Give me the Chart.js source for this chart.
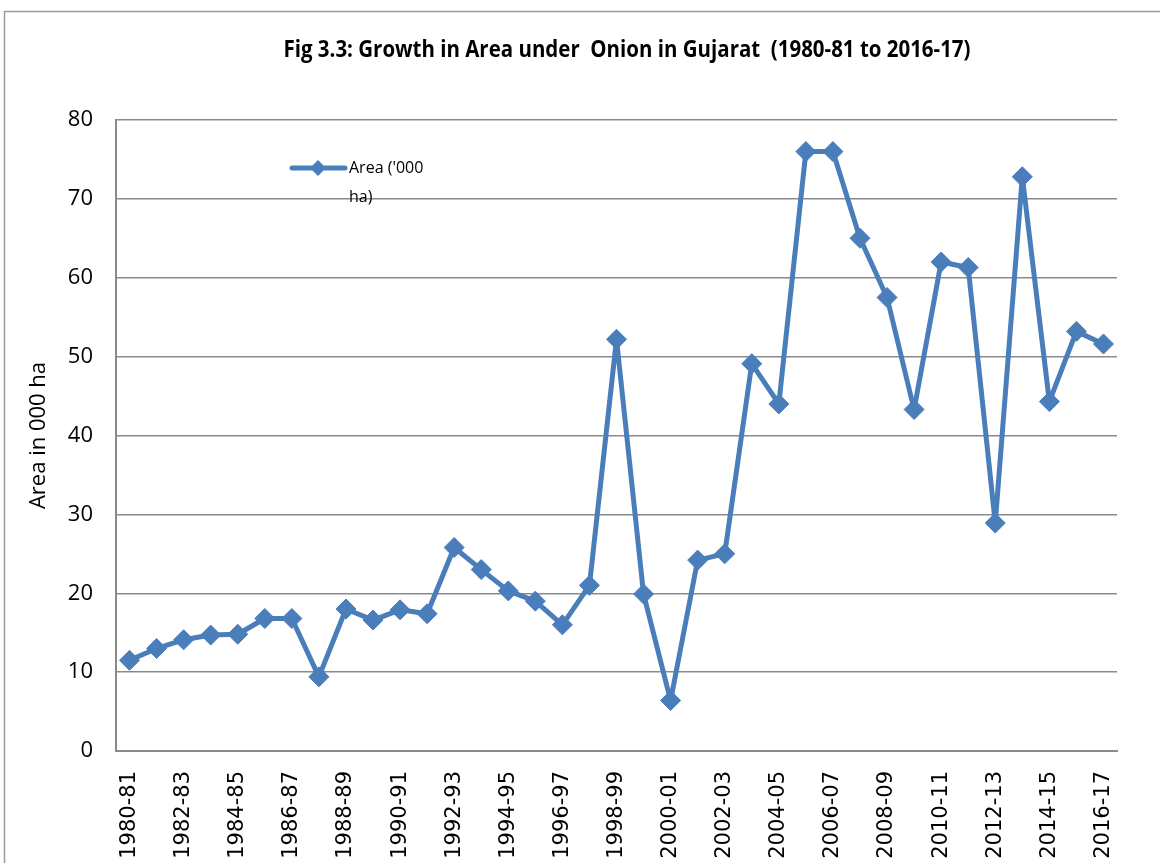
<!DOCTYPE html>
<html>
<head>
<meta charset="utf-8">
<script src="https://cdn.jsdelivr.net/npm/chart.js@4"></script>
<style>
  html, body { margin: 0; padding: 0; background: #fff; }
  #wrap { width: 1160px; height: 863px; position: relative; }
</style>
</head>
<body>
<div id="wrap"><canvas id="areaChart" width="1160" height="863"></canvas></div>
<script>
// Années agricoles
const annees = [
  "1980-81", "1981-82", "1982-83", "1983-84", "1984-85", "1985-86", "1986-87", "1987-88",
  "1988-89", "1989-90", "1990-91", "1991-92", "1992-93", "1993-94", "1994-95", "1995-96",
  "1996-97", "1997-98", "1998-99", "1999-00", "2000-01", "2001-02", "2002-03", "2003-04",
  "2004-05", "2005-06", "2006-07", "2007-08", "2008-09", "2009-10", "2010-11", "2011-12",
  "2012-13", "2013-14", "2014-15", "2015-16", "2016-17"
];

// Superficie ('000 ha)
const superficie = [
  11.5, 13.0, 14.1, 14.7, 14.8, 16.8, 16.8, 9.4,
  18.0, 16.6, 17.9, 17.4, 25.8, 23.0, 20.3, 19.0,
  16.0, 21.0, 52.2, 19.9, 6.4, 24.2, 25.0, 49.1,
  44.0, 76.0, 76.0, 65.0, 57.5, 43.3, 62.0, 61.3,
  28.9, 72.8, 44.3, 53.2, 51.6
];

const titre = "Fig 3.3: Growth in Area under  Onion in Gujarat  (1980-81 to 2016-17)";
const titreAxeY = "Area in 000 ha";
const legende = ["Area ('000", "ha)"];

const bleu = "#4A7EBB";
const gris = "#8a8a8a";

// cadre, titre et légende dessinés à la main
const decor = {
  id: "decor",
  beforeDraw(chart) {
    const ctx = chart.ctx;
    ctx.save();
    ctx.fillStyle = "#fff";
    ctx.fillRect(0, 0, chart.width, chart.height);
    ctx.strokeStyle = "#9a9a9a";
    ctx.lineWidth = 1.5;
    ctx.strokeRect(4.5, 11.5, 1300, 1000);
    ctx.restore();
  },
  afterDraw(chart) {
    const ctx = chart.ctx;
    ctx.save();
    // titre, compressé à la largeur de l'original
    ctx.font = "bold 23px 'Liberation Sans Narrow', 'Open Sans', sans-serif";
    ctx.fillStyle = "#000";
    ctx.textBaseline = "middle";
    ctx.textAlign = "center";
    const w = ctx.measureText(titre).width;
    const sx = Math.min(1, 687 / w);
    ctx.translate(627, 50);
    ctx.scale(sx, 1);
    ctx.fillText(titre, 0, 0);
    ctx.restore();

    // légende
    ctx.save();
    ctx.strokeStyle = bleu;
    ctx.lineWidth = 5;
    ctx.lineCap = "round";
    ctx.beginPath();
    ctx.moveTo(292, 168);
    ctx.lineTo(345, 168);
    ctx.stroke();
    ctx.fillStyle = bleu;
    ctx.beginPath();
    ctx.moveTo(318, 160);
    ctx.lineTo(326, 168);
    ctx.lineTo(318, 176);
    ctx.lineTo(310, 168);
    ctx.closePath();
    ctx.fill();
    ctx.fillStyle = "#000";
    ctx.font = "16px 'Open Sans', sans-serif";
    ctx.textBaseline = "middle";
    ctx.textAlign = "left";
    ctx.fillText(legende[0], 349, 168);
    ctx.fillText(legende[1], 349, 197);
    ctx.restore();
  }
};

new Chart(document.getElementById("areaChart"), {
  type: "line",
  data: {
    labels: annees,
    datasets: [{
      label: "Area ('000 ha)",
      data: superficie,
      borderColor: bleu,
      backgroundColor: bleu,
      borderWidth: 5,
      borderJoinStyle: "round",
      pointStyle: "rectRot",
      pointRadius: 10,
      pointBorderWidth: 1,
      tension: 0,
      fill: false
    }]
  },
  options: {
    responsive: false,
    animation: false,
    layout: { padding: { top: 120, right: 43, left: 0, bottom: 0 } },
    plugins: {
      legend: { display: false },
      title: { display: false },
      tooltip: { enabled: false }
    },
    scales: {
      x: {
        offset: true,
        grid: { display: false },
        border: { display: true, color: gris, width: 2 },
        afterFit(scale) { scale.height = 112; },
        ticks: {
          autoSkip: false,
          minRotation: 90,
          maxRotation: 90,
          padding: 12,
          color: "#000",
          font: { family: "'DejaVu Sans', sans-serif", size: 21 },
          callback(val, idx) { return idx % 2 === 0 ? this.getLabelForValue(val) : ""; }
        }
      },
      y: {
        min: 0,
        max: 80,
        afterFit(scale) { scale.width = 116; },
        grid: { color: gris, lineWidth: 1.5, drawTicks: false },
        border: { display: true, color: gris, width: 2 },
        ticks: {
          stepSize: 10,
          padding: 23,
          color: "#000",
          font: { family: "'Open Sans', sans-serif", size: 22 }
        },
        title: {
          display: true,
          text: titreAxeY,
          color: "#000",
          padding: { top: 26, bottom: 0 },
          font: { family: "'Open Sans', sans-serif", size: 22 }
        }
      }
    }
  },
  plugins: [decor]
});
</script>
</body>
</html>
